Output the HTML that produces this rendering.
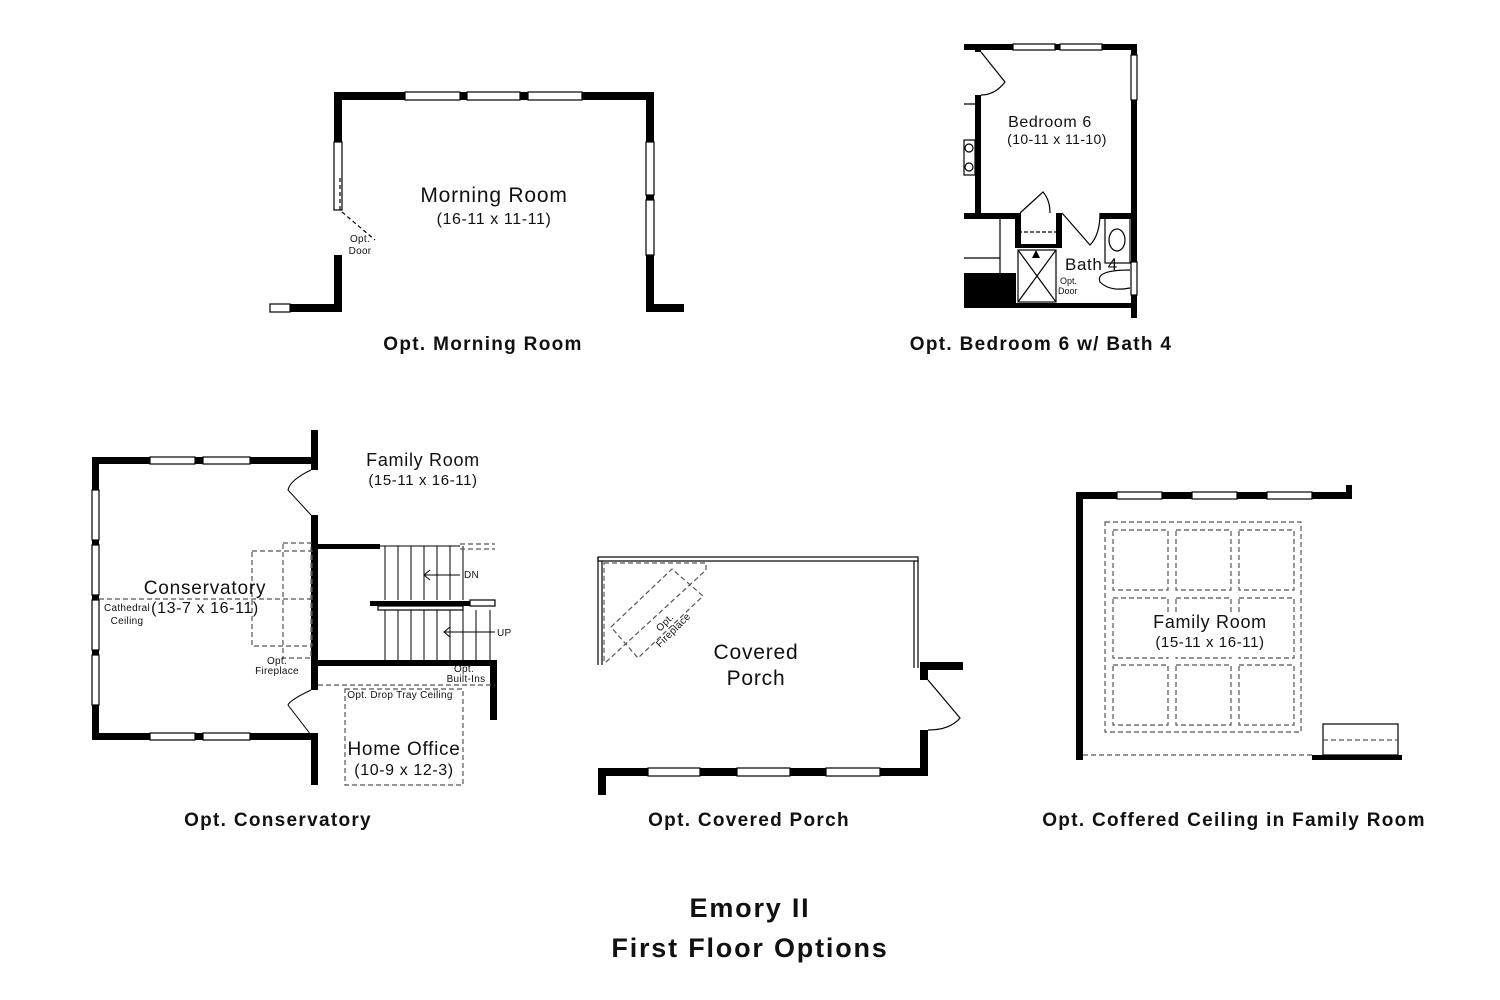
<!DOCTYPE html>
<html><head><meta charset="utf-8"><style>
body{margin:0;background:#fff}
svg{display:block}
text{font-family:"Liberation Sans",sans-serif;fill:#111}
.cap{font-weight:bold;font-size:19px;letter-spacing:1.3px}
.rm{font-size:21px;letter-spacing:0.8px}
.sm{font-size:16px;letter-spacing:0.6px}
.xs{font-size:10px;letter-spacing:0.3px}
</style></head><body>
<svg width="1500" height="1000" viewBox="0 0 1500 1000">
<g fill="#000">
<rect x="334" y="92" width="320" height="8"/>
<rect x="334" y="92" width="8" height="50"/>
<rect x="334" y="255" width="8" height="57"/>
<rect x="290" y="304" width="52" height="8"/>
<rect x="646" y="92" width="8" height="220"/>
<rect x="646" y="304" width="38" height="8"/>
</g>
<g fill="#fff" stroke="#000" stroke-width="1.2">
<rect x="405" y="92" width="55" height="8"/><rect x="467" y="92" width="53" height="8"/><rect x="528" y="92" width="54" height="8"/>
<rect x="646" y="142" width="8" height="53"/><rect x="646" y="200" width="8" height="55"/>
<rect x="334" y="142" width="8" height="68"/>
<rect x="270" y="304" width="20" height="8"/>
</g>
<path d="M340 210 L340 175 M342 212 L375 240" stroke="#000" stroke-width="1.2" stroke-dasharray="4 3" fill="none"/>
<text class="rm" x="494" y="202" text-anchor="middle">Morning Room</text>
<text class="sm" x="494" y="224" text-anchor="middle">(16-11 x 11-11)</text>
<text class="xs" x="360" y="242" text-anchor="middle">Opt.</text>
<text class="xs" x="360" y="254" text-anchor="middle">Door</text>
<text class="cap" x="483" y="350" text-anchor="middle">Opt. Morning Room</text>

<g fill="#000">
<rect x="964" y="44" width="173" height="6"/>
<rect x="1131" y="44" width="6" height="274"/>
<rect x="975" y="44" width="6" height="8"/>
<rect x="975" y="95" width="6" height="123"/>
<rect x="964" y="213" width="56" height="6"/>
<rect x="1015" y="213" width="6" height="35"/>
<rect x="1015" y="244" width="45" height="4"/>
<rect x="1056" y="213" width="6" height="35"/>
<rect x="1100" y="213" width="37" height="6"/>
<rect x="964" y="273" width="52" height="35"/>
<rect x="964" y="303" width="173" height="5"/>
</g>
<g fill="#fff" stroke="#000" stroke-width="1.2">
<rect x="1013" y="44" width="42" height="6"/><rect x="1060" y="44" width="42" height="6"/>
<rect x="1131" y="55" width="6" height="45"/><rect x="1131" y="262" width="6" height="33"/>
</g>
<g fill="none" stroke="#000" stroke-width="1.2">
<path d="M981 52 L1005 82 Q995 95 981 95"/>
<path d="M1020 213 L1043 192 Q1050 200 1050 213"/>
<path d="M1062 213 L1090 245 Q1100 235 1100 213"/>
<rect x="1018" y="250" width="38" height="52"/><path d="M1018 250 L1056 302 M1056 250 L1018 302"/>
<path d="M1018 232 L1056 232" stroke-dasharray="4 2"/>
<rect x="1105" y="218" width="25" height="45"/><ellipse cx="1117" cy="240" rx="8" ry="11"/>
<path d="M1130 270 Q1095 270 1100 282 Q1110 292 1130 288"/>
<rect x="964" y="140" width="11" height="35"/><circle cx="969" cy="148" r="4"/><circle cx="969" cy="167" r="4"/>
<path d="M964 104 L975 104 M1000 218 L1000 273 M964 258 L1000 258"/>
</g>
<path d="M1032 258 L1036 250 L1040 258Z" fill="#000"/>
<text x="1050" y="127" text-anchor="middle" style="font-size:16px;letter-spacing:0.6px">Bedroom 6</text>
<text x="1057" y="144" text-anchor="middle" style="font-size:14px;letter-spacing:0.4px">(10-11 x 11-10)</text>
<text x="1065" y="270" style="font-size:17px;letter-spacing:0.6px">Bath 4</text>
<text x="1060" y="284" style="font-size:9px">Opt.</text>
<text x="1058" y="294" style="font-size:9px">Door</text>
<text class="cap" x="1041" y="350" text-anchor="middle">Opt. Bedroom 6 w/ Bath 4</text>

<g fill="#000">
<rect x="92" y="457" width="226" height="7"/>
<rect x="92" y="457" width="7" height="283"/>
<rect x="92" y="733" width="226" height="7"/>
<rect x="311" y="430" width="7" height="40"/>
<rect x="311" y="515" width="7" height="175"/>
<rect x="311" y="735" width="7" height="50"/>
<rect x="318" y="544" width="62" height="5"/>
<rect x="318" y="660" width="179" height="6"/>
<rect x="490" y="660" width="7" height="60"/>
<rect x="370" y="601" width="100" height="5"/>
</g>
<g fill="#fff" stroke="#000" stroke-width="1.2">
<rect x="150" y="457" width="45" height="7"/><rect x="203" y="457" width="47" height="7"/>
<rect x="150" y="733" width="45" height="7"/><rect x="203" y="733" width="47" height="7"/>
<rect x="92" y="490" width="7" height="50"/><rect x="92" y="545" width="7" height="50"/><rect x="92" y="600" width="7" height="50"/><rect x="92" y="655" width="7" height="50"/>
<rect x="470" y="600" width="25" height="6"/>
<rect x="378" y="606" width="85" height="4"/>
</g>
<g fill="none" stroke="#000" stroke-width="1">
<path d="M311 470 Q290 480 288 490 L311 515"/>
<path d="M311 690 Q290 700 288 705 L311 735"/>
<path d="M380 546 L460 546 M385 546 L385 600 M398 546 L398 600 M411 546 L411 600 M424 546 L424 600 M437 546 L437 600 M450 546 L450 600 M463 546 L463 600"/>
<path d="M385 610 L385 660 M398 610 L398 660 M411 610 L411 660 M424 610 L424 660 M437 610 L437 660 M450 610 L450 660 M463 610 L463 660 M476 610 L476 660 M490 610 L490 660"/>
<path d="M425 575 L460 575 M430 570 L424 575 L430 580 M445 632 L495 632 M450 627 L444 632 L450 637"/>
</g>
<g fill="none" stroke="#555" stroke-width="1.2" stroke-dasharray="5 3">
<rect x="252" y="551" width="60" height="95"/>
<rect x="283" y="543" width="28" height="115"/>
<path d="M99 599 L311 599"/>
<path d="M460 544 L495 544 M460 549 L495 549"/>
<path d="M318 685 L495 685"/>
<rect x="345" y="689" width="118" height="96"/>
</g>
<text x="205" y="594" text-anchor="middle" style="font-size:19px;letter-spacing:0.8px">Conservatory</text>
<text x="205" y="613" text-anchor="middle" style="font-size:16px;letter-spacing:0.6px">(13-7 x 16-11)</text>
<text class="xs" x="127" y="611" text-anchor="middle">Cathedral</text>
<text class="xs" x="127" y="624" text-anchor="middle">Ceiling</text>
<text class="xs" x="277" y="664" text-anchor="middle">Opt.</text>
<text class="xs" x="277" y="674" text-anchor="middle">Fireplace</text>
<text class="xs" x="464" y="672" text-anchor="middle">Opt.</text>
<text class="xs" x="466" y="682" text-anchor="middle">Built-Ins</text>
<text class="xs" x="400" y="698" text-anchor="middle">Opt. Drop Tray Ceiling</text>
<text class="xs" x="464" y="578">DN</text>
<text class="xs" x="497" y="636">UP</text>
<text x="423" y="466" text-anchor="middle" style="font-size:18px;letter-spacing:0.7px">Family Room</text>
<text class="sm" x="423" y="485" text-anchor="middle" style="font-size:15px">(15-11 x 16-11)</text>
<text x="404" y="755" text-anchor="middle" style="font-size:19px;letter-spacing:0.7px">Home Office</text>
<text class="sm" x="404" y="775" text-anchor="middle">(10-9 x 12-3)</text>
<text class="cap" x="278" y="826" text-anchor="middle">Opt. Conservatory</text>

<g fill="none" stroke="#000" stroke-width="1.2">
<rect x="598" y="557" width="320" height="4"/>
<path d="M598 557 L598 665 M602 561 L602 665 M914 561 L914 668 M918 561 L918 668"/>
<path d="M928 680 L960 718 Q950 730 928 730"/>
</g>
<g fill="#000">
<rect x="598" y="768" width="330" height="8"/>
<rect x="598" y="770" width="8" height="25"/>
<rect x="920" y="662" width="43" height="8"/>
<rect x="920" y="662" width="8" height="18"/>
<rect x="920" y="730" width="8" height="46"/>
</g>
<g fill="#fff" stroke="#000" stroke-width="1.2">
<rect x="648" y="768" width="52" height="8"/><rect x="737" y="768" width="53" height="8"/><rect x="826" y="768" width="54" height="8"/>
</g>
<g fill="none" stroke="#555" stroke-width="1.2" stroke-dasharray="5 3">
<path d="M611 627 L672 569 L703 596 L638 658 Z"/>
<path d="M604 563 L706 563 L706 570 L606 662 L604 662 Z"/>
</g>
<text class="xs" x="660" y="632" transform="rotate(-45 660 632)">Opt.</text>
<text class="xs" x="660" y="648" transform="rotate(-45 660 648)">Fireplace</text>
<text class="rm" x="756" y="659" text-anchor="middle">Covered</text>
<text class="rm" x="756" y="685" text-anchor="middle">Porch</text>
<text class="cap" x="749" y="826" text-anchor="middle">Opt. Covered Porch</text>

<g fill="#000">
<rect x="1076" y="492" width="276" height="7"/>
<rect x="1346" y="485" width="6" height="14"/>
<rect x="1076" y="492" width="7" height="268"/>
<rect x="1312" y="755" width="90" height="5"/>
</g>
<g fill="#fff" stroke="#000" stroke-width="1.2">
<rect x="1117" y="492" width="45" height="7"/><rect x="1192" y="492" width="45" height="7"/><rect x="1267" y="492" width="45" height="7"/>
<rect x="1323" y="724" width="75" height="31"/>
</g>
<g fill="none" stroke="#555" stroke-width="1.2" stroke-dasharray="5 3">
<rect x="1105" y="522" width="196" height="210"/>
<rect x="1113" y="530" width="55" height="60"/><rect x="1176" y="530" width="55" height="60"/><rect x="1239" y="530" width="55" height="60"/>
<rect x="1113" y="598" width="55" height="60"/><rect x="1176" y="598" width="55" height="60"/><rect x="1239" y="598" width="55" height="60"/>
<rect x="1113" y="665" width="55" height="60"/><rect x="1176" y="665" width="55" height="60"/><rect x="1239" y="665" width="55" height="60"/>
<path d="M1083 755 L1312 755 M1323 740 L1398 740"/>
</g>
<rect x="1140" y="615" width="140" height="42" fill="#fff"/>
<text x="1210" y="628" text-anchor="middle" style="font-size:18px;letter-spacing:0.7px">Family Room</text>
<text class="sm" x="1210" y="647" text-anchor="middle" style="font-size:15px">(15-11 x 16-11)</text>
<text class="cap" x="1234" y="826" text-anchor="middle">Opt. Coffered Ceiling in Family Room</text>

<text x="750" y="917" text-anchor="middle" style="font-weight:bold;font-size:27px;letter-spacing:1.8px">Emory II</text>
<text x="750" y="957" text-anchor="middle" style="font-weight:bold;font-size:27px;letter-spacing:1.8px">First Floor Options</text>
</svg>
</body></html>
